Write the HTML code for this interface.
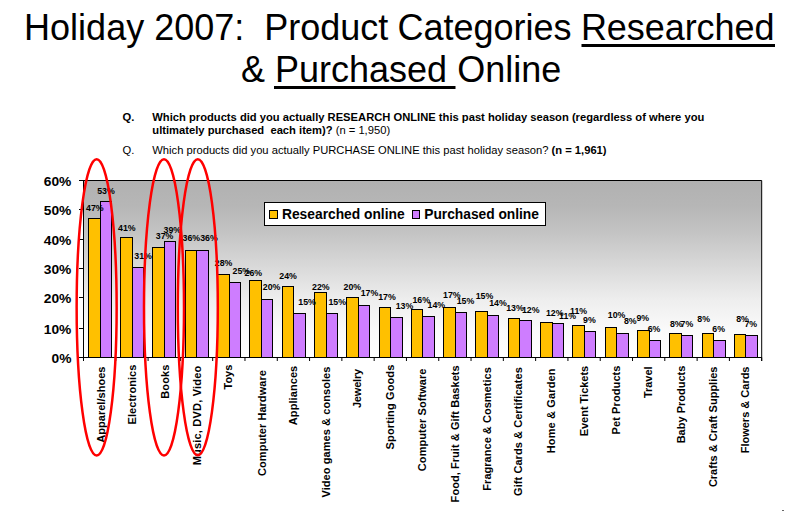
<!DOCTYPE html>
<html><head><meta charset="utf-8"><title>Holiday 2007</title>
<style>
html,body{margin:0;padding:0;background:#fff;}
body{width:795px;height:511px;overflow:hidden;font-family:"Liberation Sans",sans-serif;}
svg{display:block;}
text{font-family:"Liberation Sans",sans-serif;fill:#000;}
.b{font-weight:bold;}
</style></head><body>
<svg width="795" height="511" viewBox="0 0 795 511">
<defs><linearGradient id="g" x1="0" y1="0" x2="0" y2="1"><stop offset="0.0000" stop-color="#b1b1b1"/><stop offset="0.1384" stop-color="#b6b6b6"/><stop offset="0.2797" stop-color="#c2c2c2"/><stop offset="0.6751" stop-color="#eeeeee"/><stop offset="0.8446" stop-color="#fafafa"/><stop offset="1.0000" stop-color="#ffffff"/></linearGradient></defs>
<rect width="795" height="511" fill="#fff"/>
<text x="24.1" y="39.7" font-size="36" xml:space="preserve">Holiday 2007:  Product <tspan id="t1c" x="397.4">Categories</tspan> <tspan id="t1u" x="580.9" textLength="193.6">Researched</tspan></text>
<text x="241" y="82.3" font-size="36" xml:space="preserve">&amp; <tspan id="t2u">Purchased </tspan>Online</text>
<rect x="581.5" y="44" width="193.5" height="3" fill="#000"/>
<rect x="274" y="86" width="181.5" height="3" fill="#000"/>
<text x="122.5" y="120.6" font-size="11.2" class="b">Q.</text>
<text x="152.3" y="120.6" font-size="11.2" class="b" id="q1">Which products did you actually RESEARCH ONLINE this past holiday season (regardless of where you</text>
<text x="152.3" y="133.6" font-size="11.2" xml:space="preserve" id="q2"><tspan class="b">ultimately purchased  each item)?</tspan> (n = 1,950)</text>
<text x="122.5" y="153.6" font-size="11.2">Q.</text>
<text x="152.3" y="153.6" font-size="11.2" id="q3">Which products did you actually PURCHASE ONLINE this past holiday season? <tspan class="b">(n = 1,961)</tspan></text>
<rect x="83.5" y="180.5" width="678.2" height="177.0" fill="url(#g)"/>
<path d="M79.0 180.5H761.7V361.0" fill="none" stroke="#000" stroke-width="1"/>
<path d="M83.5 180.5V361.0M79.0 357.5H761.7" fill="none" stroke="#000" stroke-width="1"/>
<text transform="translate(71.4,362.7) scale(1.045,1)" font-size="13.2" class="b" text-anchor="end">0%</text>
<text transform="translate(71.4,333.8) scale(1.045,1)" font-size="13.2" class="b" text-anchor="end">10%</text>
<text transform="translate(71.4,303.1) scale(1.045,1)" font-size="13.2" class="b" text-anchor="end">20%</text>
<text transform="translate(71.4,274) scale(1.045,1)" font-size="13.2" class="b" text-anchor="end">30%</text>
<text transform="translate(71.4,245) scale(1.045,1)" font-size="13.2" class="b" text-anchor="end">40%</text>
<text transform="translate(71.4,215) scale(1.045,1)" font-size="13.2" class="b" text-anchor="end">50%</text>
<text transform="translate(71.4,185.7) scale(1.045,1)" font-size="13.2" class="b" text-anchor="end">60%</text>
<path d="M79.0 357.5H83.5M79.0 328.5H83.5M79.0 297.5H83.5M79.0 268.5H83.5M79.0 239.5H83.5M79.0 209.5H83.5M79.0 180.5H83.5M83.50 357.5V361.0M115.80 357.5V361.0M148.09 357.5V361.0M180.39 357.5V361.0M212.68 357.5V361.0M244.98 357.5V361.0M277.27 357.5V361.0M309.57 357.5V361.0M341.86 357.5V361.0M374.16 357.5V361.0M406.45 357.5V361.0M438.75 357.5V361.0M471.04 357.5V361.0M503.34 357.5V361.0M535.63 357.5V361.0M567.93 357.5V361.0M600.22 357.5V361.0M632.52 357.5V361.0M664.81 357.5V361.0M697.11 357.5V361.0M729.40 357.5V361.0M761.70 357.5V361.0" fill="none" stroke="#000" stroke-width="1"/>
<rect x="88.5" y="218.5" width="12.0" height="139.0" fill="#ffc000" stroke="#000" stroke-width="1"/><rect x="100.5" y="201.5" width="11.0" height="156.0" fill="#ce7dff" stroke="#000" stroke-width="1"/>
<rect x="120.5" y="237.5" width="12.0" height="120.0" fill="#ffc000" stroke="#000" stroke-width="1"/><rect x="132.5" y="267.5" width="11.0" height="90.0" fill="#ce7dff" stroke="#000" stroke-width="1"/>
<rect x="152.5" y="247.5" width="12.0" height="110.0" fill="#ffc000" stroke="#000" stroke-width="1"/><rect x="164.5" y="241.5" width="11.0" height="116.0" fill="#ce7dff" stroke="#000" stroke-width="1"/>
<rect x="185.5" y="250.5" width="11.0" height="107.0" fill="#ffc000" stroke="#000" stroke-width="1"/><rect x="196.5" y="250.5" width="12.0" height="107.0" fill="#ce7dff" stroke="#000" stroke-width="1"/>
<rect x="217.5" y="274.5" width="12.0" height="83.0" fill="#ffc000" stroke="#000" stroke-width="1"/><rect x="229.5" y="282.5" width="11.0" height="75.0" fill="#ce7dff" stroke="#000" stroke-width="1"/>
<rect x="249.5" y="280.5" width="12.0" height="77.0" fill="#ffc000" stroke="#000" stroke-width="1"/><rect x="261.5" y="299.5" width="11.0" height="58.0" fill="#ce7dff" stroke="#000" stroke-width="1"/>
<rect x="282.5" y="286.5" width="11.0" height="71.0" fill="#ffc000" stroke="#000" stroke-width="1"/><rect x="293.5" y="313.5" width="12.0" height="44.0" fill="#ce7dff" stroke="#000" stroke-width="1"/>
<rect x="314.5" y="292.5" width="12.0" height="65.0" fill="#ffc000" stroke="#000" stroke-width="1"/><rect x="326.5" y="313.5" width="11.0" height="44.0" fill="#ce7dff" stroke="#000" stroke-width="1"/>
<rect x="346.5" y="297.5" width="12.0" height="60.0" fill="#ffc000" stroke="#000" stroke-width="1"/><rect x="358.5" y="305.5" width="11.0" height="52.0" fill="#ce7dff" stroke="#000" stroke-width="1"/>
<rect x="379.5" y="307.5" width="11.0" height="50.0" fill="#ffc000" stroke="#000" stroke-width="1"/><rect x="390.5" y="317.5" width="12.0" height="40.0" fill="#ce7dff" stroke="#000" stroke-width="1"/>
<rect x="411.5" y="309.5" width="11.0" height="48.0" fill="#ffc000" stroke="#000" stroke-width="1"/><rect x="422.5" y="316.5" width="12.0" height="41.0" fill="#ce7dff" stroke="#000" stroke-width="1"/>
<rect x="443.5" y="307.5" width="12.0" height="50.0" fill="#ffc000" stroke="#000" stroke-width="1"/><rect x="455.5" y="312.5" width="11.0" height="45.0" fill="#ce7dff" stroke="#000" stroke-width="1"/>
<rect x="475.5" y="311.5" width="12.0" height="46.0" fill="#ffc000" stroke="#000" stroke-width="1"/><rect x="487.5" y="315.5" width="11.0" height="42.0" fill="#ce7dff" stroke="#000" stroke-width="1"/>
<rect x="508.5" y="318.5" width="11.0" height="39.0" fill="#ffc000" stroke="#000" stroke-width="1"/><rect x="519.5" y="320.5" width="12.0" height="37.0" fill="#ce7dff" stroke="#000" stroke-width="1"/>
<rect x="540.5" y="322.5" width="12.0" height="35.0" fill="#ffc000" stroke="#000" stroke-width="1"/><rect x="552.5" y="323.5" width="11.0" height="34.0" fill="#ce7dff" stroke="#000" stroke-width="1"/>
<rect x="572.5" y="325.5" width="12.0" height="32.0" fill="#ffc000" stroke="#000" stroke-width="1"/><rect x="584.5" y="331.5" width="11.0" height="26.0" fill="#ce7dff" stroke="#000" stroke-width="1"/>
<rect x="605.5" y="327.5" width="11.0" height="30.0" fill="#ffc000" stroke="#000" stroke-width="1"/><rect x="616.5" y="333.5" width="12.0" height="24.0" fill="#ce7dff" stroke="#000" stroke-width="1"/>
<rect x="637.5" y="330.5" width="12.0" height="27.0" fill="#ffc000" stroke="#000" stroke-width="1"/><rect x="649.5" y="340.5" width="11.0" height="17.0" fill="#ce7dff" stroke="#000" stroke-width="1"/>
<rect x="669.5" y="333.5" width="12.0" height="24.0" fill="#ffc000" stroke="#000" stroke-width="1"/><rect x="681.5" y="335.5" width="11.0" height="22.0" fill="#ce7dff" stroke="#000" stroke-width="1"/>
<rect x="702.5" y="333.5" width="11.0" height="24.0" fill="#ffc000" stroke="#000" stroke-width="1"/><rect x="713.5" y="340.5" width="12.0" height="17.0" fill="#ce7dff" stroke="#000" stroke-width="1"/>
<rect x="734.5" y="334.5" width="11.0" height="23.0" fill="#ffc000" stroke="#000" stroke-width="1"/><rect x="745.5" y="335.5" width="12.0" height="22.0" fill="#ce7dff" stroke="#000" stroke-width="1"/>
<rect x="264.5" y="202.5" width="281" height="23" fill="#fff" stroke="#000" stroke-width="1"/>
<rect x="269.5" y="210.5" width="8" height="8" fill="#ffc000" stroke="#000" stroke-width="1"/>
<rect x="412.5" y="210.5" width="7" height="8" fill="#ce7dff" stroke="#000" stroke-width="1"/>
<text x="282" y="218.7" font-size="13.8" class="b" id="lg1" textLength="122.6">Researched online</text>
<text x="424.3" y="218.7" font-size="13.8" class="b" id="lg2" textLength="114.6">Purchased online</text>
<text transform="translate(86,211.2) scale(0.915,1)" font-size="9.6" class="b dl">47%</text><text transform="translate(97.2,193.8) scale(0.915,1)" font-size="9.6" class="b dl">53%</text><text transform="translate(118.1,231) scale(0.915,1)" font-size="9.6" class="b dl">41%</text><text transform="translate(134.3,258.6) scale(0.915,1)" font-size="9.6" class="b dl">31%</text><text transform="translate(155.8,239.2) scale(0.915,1)" font-size="9.6" class="b dl">37%</text><text transform="translate(163.5,232.8) scale(0.915,1)" font-size="9.6" class="b dl">39%</text><text transform="translate(182.5,240.7) scale(0.915,1)" font-size="9.6" class="b dl">36%</text><text transform="translate(200.2,240.7) scale(0.915,1)" font-size="9.6" class="b dl">36%</text><text transform="translate(214.8,265.6) scale(0.915,1)" font-size="9.6" class="b dl">28%</text><text transform="translate(232.6,274) scale(0.915,1)" font-size="9.6" class="b dl">25%</text><text transform="translate(244.5,275.5) scale(0.915,1)" font-size="9.6" class="b dl">26%</text><text transform="translate(262.8,290) scale(0.915,1)" font-size="9.6" class="b dl">20%</text><text transform="translate(279.3,278.8) scale(0.915,1)" font-size="9.6" class="b dl">24%</text><text transform="translate(298.3,305) scale(0.915,1)" font-size="9.6" class="b dl">15%</text><text transform="translate(312,289.5) scale(0.915,1)" font-size="9.6" class="b dl">22%</text><text transform="translate(328.4,305) scale(0.915,1)" font-size="9.6" class="b dl">15%</text><text transform="translate(343.5,289.7) scale(0.915,1)" font-size="9.6" class="b dl">20%</text><text transform="translate(360.7,295.7) scale(0.915,1)" font-size="9.6" class="b dl">17%</text><text transform="translate(378.2,299.6) scale(0.915,1)" font-size="9.6" class="b dl">17%</text><text transform="translate(395.7,308.9) scale(0.915,1)" font-size="9.6" class="b dl">13%</text><text transform="translate(412.4,302.9) scale(0.915,1)" font-size="9.6" class="b dl">16%</text><text transform="translate(427.5,307.7) scale(0.915,1)" font-size="9.6" class="b dl">14%</text><text transform="translate(443,297.8) scale(0.915,1)" font-size="9.6" class="b dl">17%</text><text transform="translate(456.7,303.9) scale(0.915,1)" font-size="9.6" class="b dl">15%</text><text transform="translate(475.7,298.8) scale(0.915,1)" font-size="9.6" class="b dl">15%</text><text transform="translate(489.2,305.5) scale(0.915,1)" font-size="9.6" class="b dl">14%</text><text transform="translate(506.2,310.8) scale(0.915,1)" font-size="9.6" class="b dl">13%</text><text transform="translate(521.9,312.9) scale(0.915,1)" font-size="9.6" class="b dl">12%</text><text transform="translate(545.9,315.9) scale(0.915,1)" font-size="9.6" class="b dl">12%</text><text transform="translate(559.1,318.9) scale(0.915,1)" font-size="9.6" class="b dl">11%</text><text transform="translate(570,313.7) scale(0.915,1)" font-size="9.6" class="b dl">11%</text><text transform="translate(583.1,322.7) scale(0.915,1)" font-size="9.6" class="b dl">9%</text><text transform="translate(607.8,318) scale(0.915,1)" font-size="9.6" class="b dl">10%</text><text transform="translate(623.9,324.4) scale(0.915,1)" font-size="9.6" class="b dl">8%</text><text transform="translate(636.4,321.1) scale(0.915,1)" font-size="9.6" class="b dl">9%</text><text transform="translate(647.7,332) scale(0.915,1)" font-size="9.6" class="b dl">6%</text><text transform="translate(669.9,327) scale(0.915,1)" font-size="9.6" class="b dl">8%</text><text transform="translate(680.6,327) scale(0.915,1)" font-size="9.6" class="b dl">7%</text><text transform="translate(697.3,321.7) scale(0.915,1)" font-size="9.6" class="b dl">8%</text><text transform="translate(712.3,332) scale(0.915,1)" font-size="9.6" class="b dl">6%</text><text transform="translate(736.2,321.7) scale(0.915,1)" font-size="9.6" class="b dl">8%</text><text transform="translate(744.4,326.6) scale(0.915,1)" font-size="9.6" class="b dl">7%</text>
<text transform="translate(105.2,366.6) rotate(-90)" font-size="11" class="b cl" text-anchor="end" textLength="76.11" id="c0">Apparel/shoes</text>
<text transform="translate(136.2,364.7) rotate(-90)" font-size="11" class="b cl" text-anchor="end" textLength="59.71" id="c1">Electronics</text>
<text transform="translate(169,364.7) rotate(-90)" font-size="11" class="b cl" text-anchor="end" textLength="34.03" id="c2">Books</text>
<text transform="translate(200.5,365.8) rotate(-90)" font-size="11" class="b cl" text-anchor="end" textLength="99.48" id="c3">Music, DVD, Video</text>
<text transform="translate(232,364.7) rotate(-90)" font-size="11" class="b cl" text-anchor="end" textLength="24.76" id="c4">Toys</text>
<text transform="translate(266.3,370.2) rotate(-90)" font-size="11" class="b cl" text-anchor="end" textLength="105.74" id="c5">Computer Hardware</text>
<text transform="translate(296.8,365.8) rotate(-90)" font-size="11" class="b cl" text-anchor="end" textLength="59.39" id="c6">Appliances</text>
<text transform="translate(329.7,366.6) rotate(-90)" font-size="11" class="b cl" text-anchor="end" textLength="130.91" id="c7">Video games &amp; consoles</text>
<text transform="translate(361.2,368.8) rotate(-90)" font-size="11" class="b cl" text-anchor="end" textLength="39.28" id="c8">Jewelry</text>
<text transform="translate(393.8,364.7) rotate(-90)" font-size="11" class="b cl" text-anchor="end" textLength="84.71" id="c9">Sporting Goods</text>
<text transform="translate(426.2,368.5) rotate(-90)" font-size="11" class="b cl" text-anchor="end" textLength="102.67" id="c10">Computer Software</text>
<text transform="translate(458.5,365.3) rotate(-90)" font-size="11" class="b cl" text-anchor="end" textLength="137.09" id="c11">Food, Fruit &amp; Gift Baskets</text>
<text transform="translate(490.7,367.2) rotate(-90)" font-size="11" class="b cl" text-anchor="end" textLength="123.49" id="c12">Fragrance &amp; Cosmetics</text>
<text transform="translate(522.2,367.2) rotate(-90)" font-size="11" class="b cl" text-anchor="end" textLength="128.76" id="c13">Gift Cards &amp; Certificates</text>
<text transform="translate(555,368.5) rotate(-90)" font-size="11" class="b cl" text-anchor="end" textLength="84.74" id="c14">Home &amp; Garden</text>
<text transform="translate(588,365.8) rotate(-90)" font-size="11" class="b cl" text-anchor="end" textLength="70.53" id="c15">Event Tickets</text>
<text transform="translate(620.2,365.5) rotate(-90)" font-size="11" class="b cl" text-anchor="end" textLength="68.96" id="c16">Pet Products</text>
<text transform="translate(652.4,366.5) rotate(-90)" font-size="11" class="b cl" text-anchor="end" textLength="31.51" id="c17">Travel</text>
<text transform="translate(685,365.6) rotate(-90)" font-size="11" class="b cl" text-anchor="end" textLength="77.74" id="c18">Baby Products</text>
<text transform="translate(717.1,366.5) rotate(-90)" font-size="11" class="b cl" text-anchor="end" textLength="120.62" id="c19">Crafts &amp; Craft Supplies</text>
<text transform="translate(749.2,366.5) rotate(-90)" font-size="11" class="b cl" text-anchor="end" textLength="86.81" id="c20">Flowers &amp; Cards</text>
<ellipse cx="96.65" cy="307.4" rx="20" ry="148.2" fill="none" stroke="#ff0000" stroke-width="2.5"/>
<ellipse cx="164.0" cy="307.4" rx="20" ry="148.2" fill="none" stroke="#ff0000" stroke-width="2.5"/>
<ellipse cx="197.8" cy="307.2" rx="20" ry="148.0" fill="none" stroke="#ff0000" stroke-width="2.5"/>
<rect x="782" y="510" width="2" height="1" fill="#666"/>
</svg>
</body></html>
